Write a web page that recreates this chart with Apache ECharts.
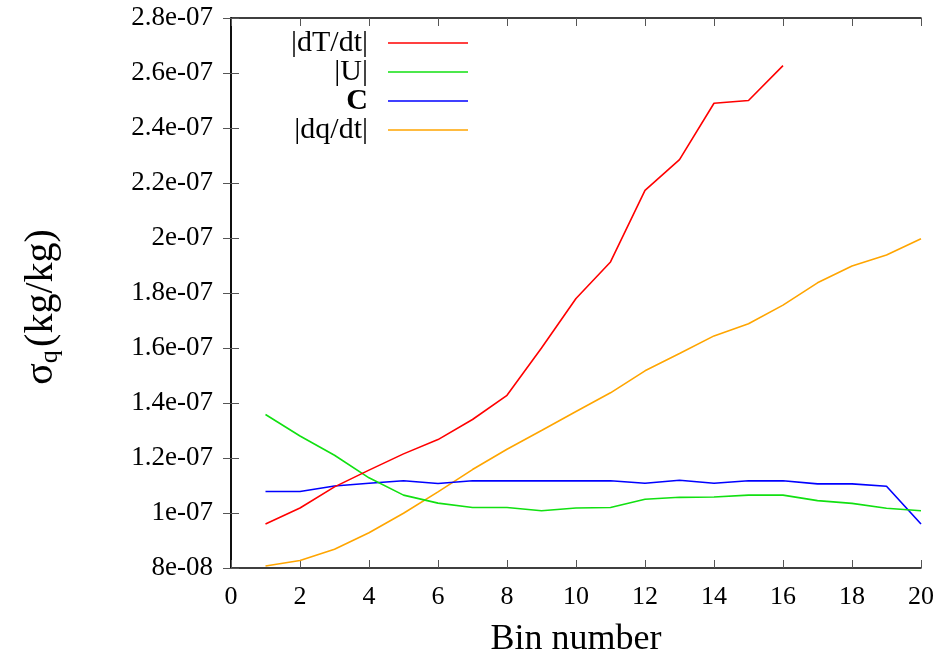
<!DOCTYPE html>
<html>
<head>
<meta charset="utf-8">
<script src="https://cdn.jsdelivr.net/npm/echarts@6/dist/echarts.min.js"></script>
<style>html,body{margin:0;padding:0;background:#fff}#c{width:945px;height:659px}</style>
</head>
<body>
<div id="c"></div>
<script>
const bins = [1,2,3,4,5,6,7,8,9,10,11,12,13,14,15,16,17,18,19,20];
const dTdt = [9.6e-8,1.018e-7,1.095e-7,1.156e-7,1.215e-7,1.267e-7,1.34e-7,1.428e-7,1.6e-7,1.78e-7,1.913e-7,2.173e-7,2.285e-7,2.49e-7,2.5e-7,2.627e-7];
const U = [1.358e-7,1.28e-7,1.21e-7,1.128e-7,1.065e-7,1.036e-7,1.02e-7,1.02e-7,1.008e-7,1.018e-7,1.02e-7,1.05e-7,1.057e-7,1.058e-7,1.065e-7,1.065e-7,1.045e-7,1.035e-7,1.017e-7,1.008e-7];
const C = [1.078e-7,1.078e-7,1.098e-7,1.108e-7,1.117e-7,1.107e-7,1.117e-7,1.117e-7,1.117e-7,1.117e-7,1.117e-7,1.108e-7,1.119e-7,1.108e-7,1.117e-7,1.117e-7,1.106e-7,1.106e-7,1.097e-7,9.6e-8];
const dqdt = [8.07e-8,8.27e-8,8.68e-8,9.28e-8,9.99e-8,1.077e-7,1.158e-7,1.232e-7,1.3e-7,1.369e-7,1.437e-7,1.517e-7,1.58e-7,1.644e-7,1.688e-7,1.756e-7,1.837e-7,1.898e-7,1.938e-7,1.997e-7];
const names = ['|dT/dt|','|U|','C','|dq/dt|'];
const colors = ['#ff0000','#11e011','#0000ff','#ffa500'];
const xTicks = {min:0, max:20, interval:2};
const yTicks = {min:8e-8, max:2.8e-7, interval:2e-8};

const serif = 'Liberation Serif';
function fmt(v){
  const s = Number(v.toPrecision(6)).toExponential();
  return s.replace(/e([+-])(\d+)$/, (m,sg,d)=> 'e'+sg+(d.length<2?'0'+d:d));
}
function pair(vals){ return vals.map((v,i)=>[bins[i], v]); }
const allVals = [dTdt, U, C, dqdt];

const tick = {show:true, inside:true, length:8, lineStyle:{color:'#555', width:1}};
const axLine = {show:true, lineStyle:{color:'#000', width:1.5}};

const legends = names.map((n,i)=>({
  data:[n], orient:'vertical', right:472, top:23 + i*29,
  align:'right', icon:'rect', itemWidth:80, itemHeight:1.5,
  selectedMode:false,
  formatter: n==='C' ? '{b|C}' : '{t|'+n+'}',
  textStyle:{fontFamily:serif, fontSize:30, color:'#000', padding:[0,15,0,0],
    rich:{b:{fontFamily:serif, fontSize:30, fontWeight:'bold', color:'#000'},
          t:{fontFamily:serif, fontSize:30, color:'#000'}}}
}));

const option = {
  animation:false,
  backgroundColor:'#fff',
  grid:{left:231, right:24, top:18, bottom:91, containLabel:false, outerBoundsMode:'none'},
  legend: legends,
  xAxis:[{
    type:'value', min:xTicks.min, max:xTicks.max, interval:xTicks.interval,
    position:'bottom', axisLine:axLine, axisTick:tick, splitLine:{show:false},
    axisLabel:{fontFamily:serif, fontSize:26, color:'#000', margin:16},
    name:'Bin number', nameLocation:'middle', nameGap:54,
    nameTextStyle:{fontFamily:serif, fontSize:36, color:'#000'}
  },{
    type:'value', min:xTicks.min, max:xTicks.max, interval:xTicks.interval,
    position:'top', axisLine:axLine, axisTick:tick, splitLine:{show:false},
    axisLabel:{show:false}
  }],
  yAxis:[{
    type:'value', min:yTicks.min, max:yTicks.max, interval:yTicks.interval,
    position:'left', axisLine:axLine, axisTick:tick, splitLine:{show:false},
    axisLabel:{fontFamily:serif, fontSize:27, color:'#000', margin:18, formatter:fmt},
    name:'{s|σ}{q|q} {s|(kg/kg)}', nameLocation:'middle', nameGap:168, nameRotate:90,
    nameTextStyle:{padding:[0,28,0,0], rich:{
      s:{fontFamily:serif, fontSize:40, color:'#000'},
      q:{fontFamily:serif, fontSize:26, color:'#000', padding:[17,0,0,0]}
    }}
  },{
    type:'value', min:yTicks.min, max:yTicks.max, interval:yTicks.interval,
    position:'right', axisLine:axLine, axisTick:tick, splitLine:{show:false},
    axisLabel:{show:false}
  }],
  series: names.map((n,i)=>({
    name:n, type:'line', xAxisIndex:0, yAxisIndex:0,
    data: pair(allVals[i]), showSymbol:false, symbol:'none',
    lineStyle:{color:colors[i], width:1.6}, itemStyle:{color:colors[i]},
    z: 10 - i
  }))
};
const chart = echarts.init(document.getElementById('c'), null, {renderer:'canvas'});
chart.setOption(option);
</script>
</body>
</html>
